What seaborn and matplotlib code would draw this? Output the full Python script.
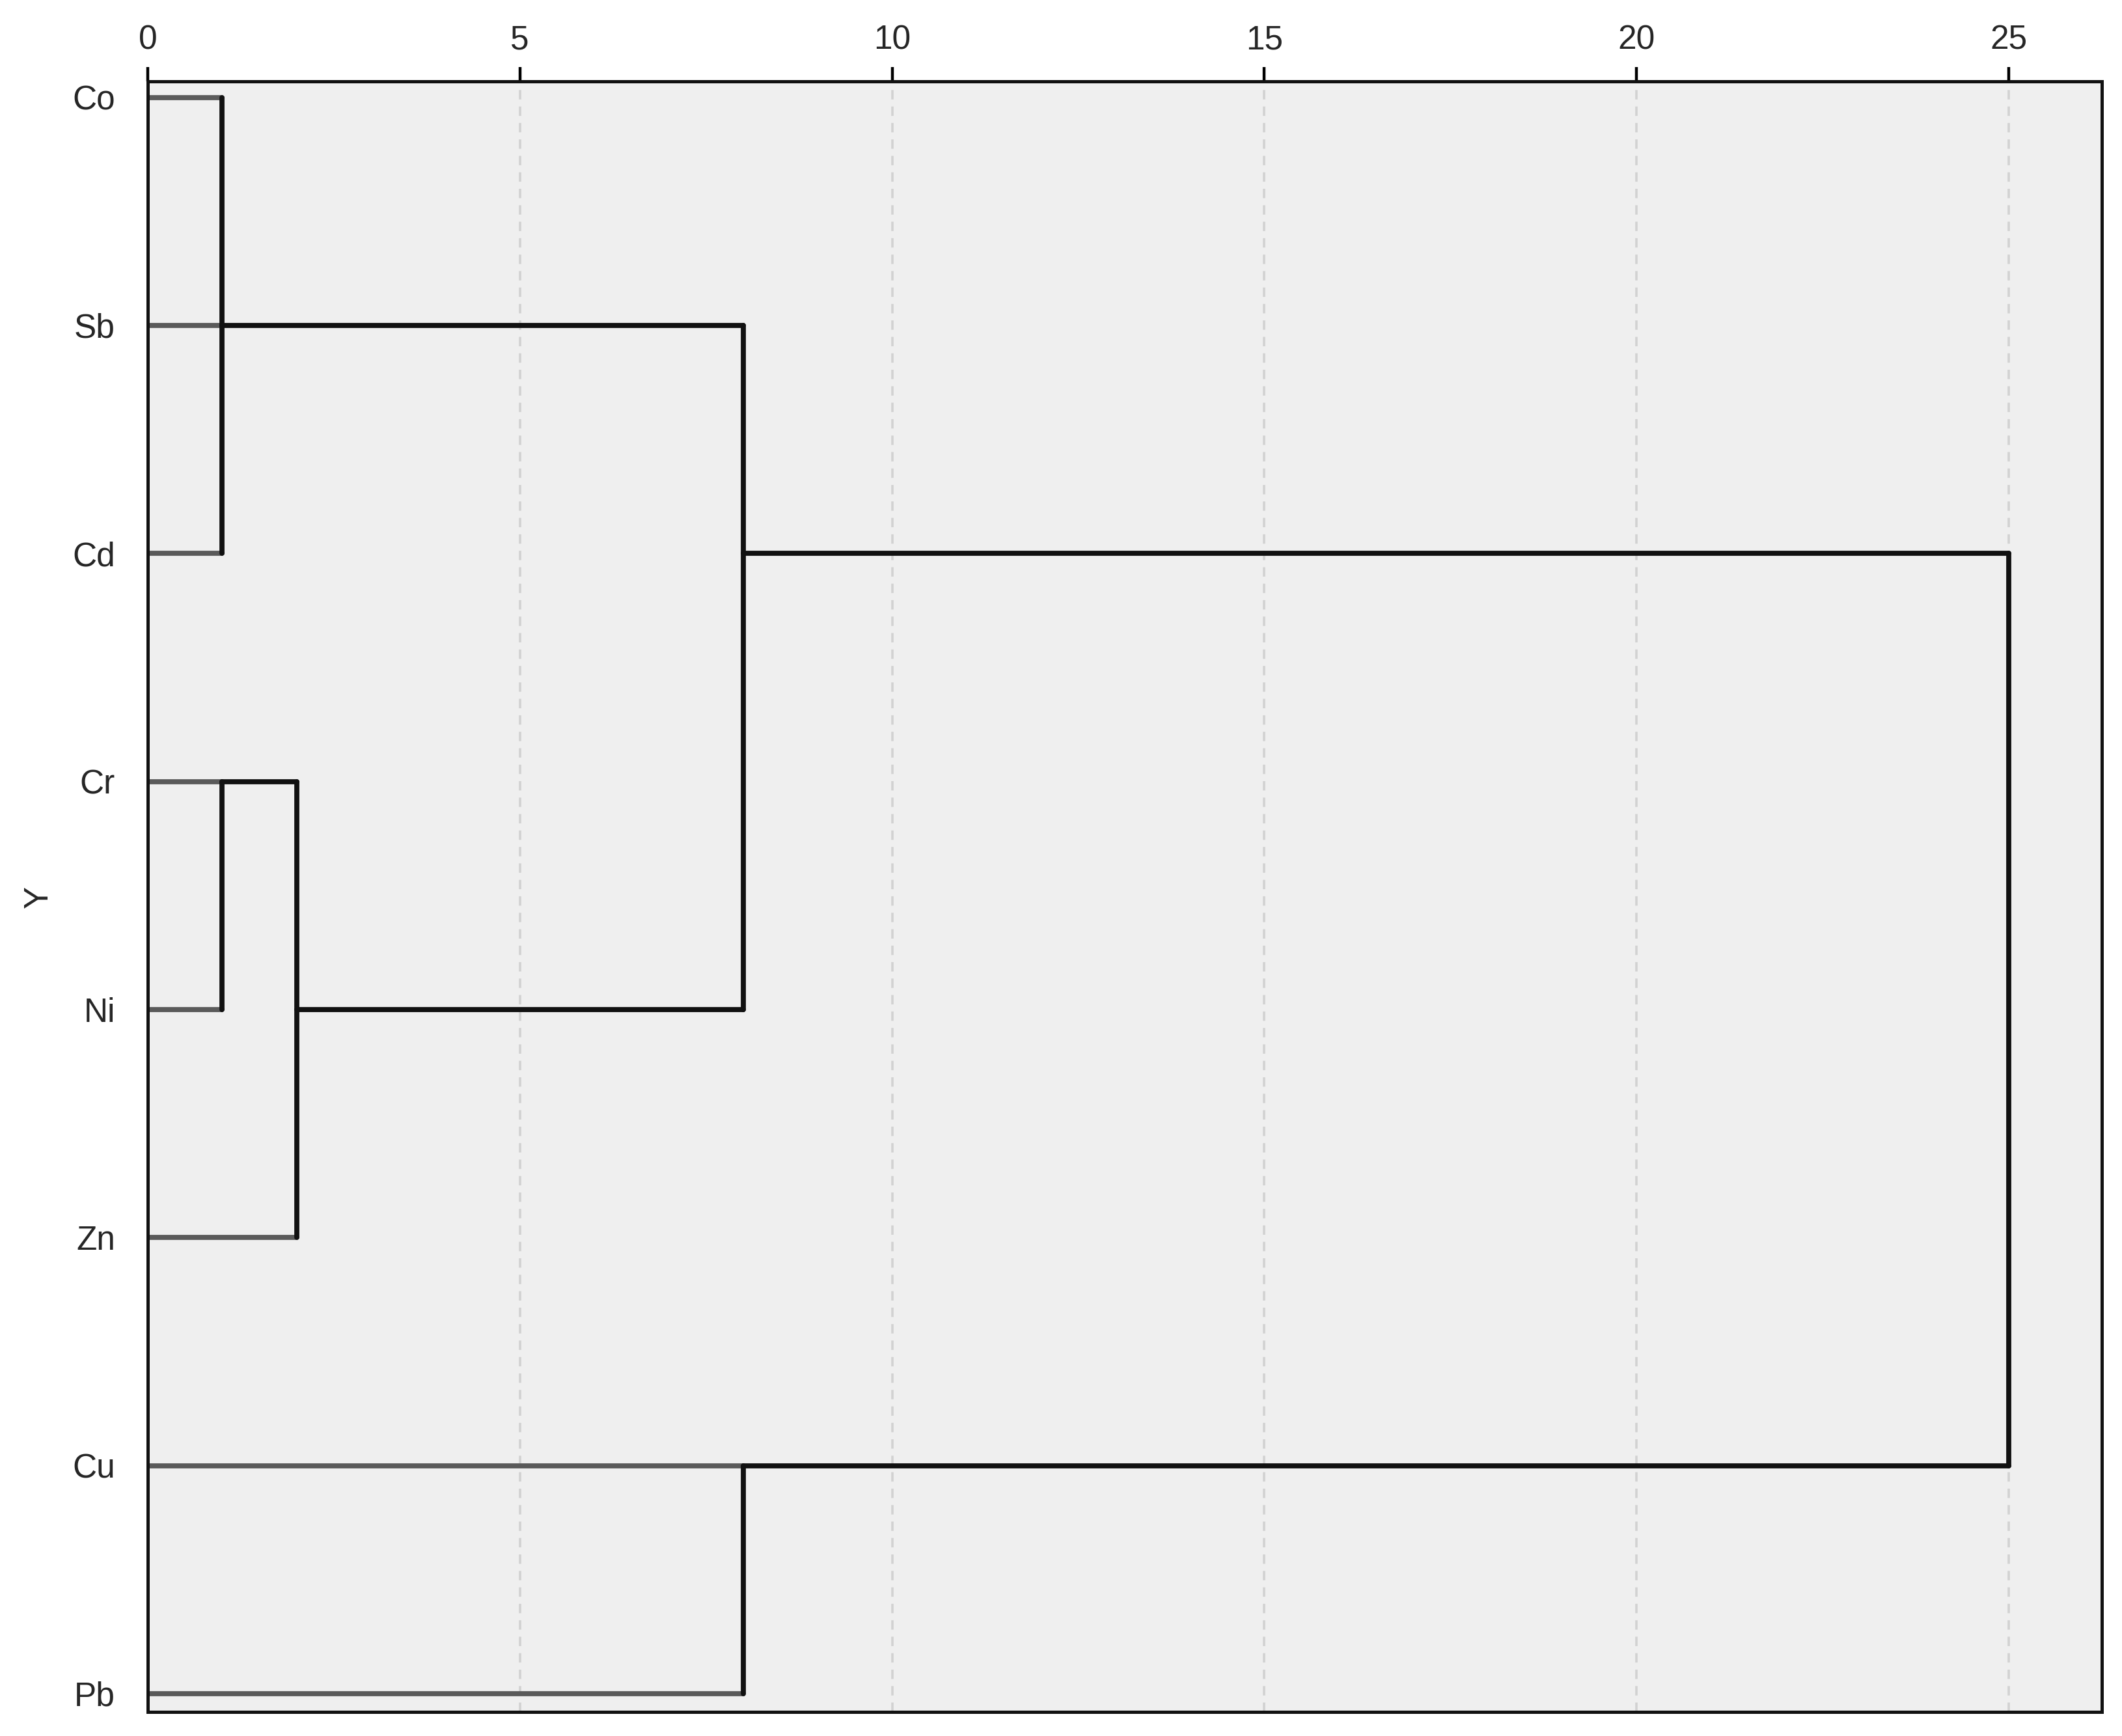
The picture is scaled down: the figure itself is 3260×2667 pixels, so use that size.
import matplotlib
matplotlib.use("Agg")
import matplotlib.pyplot as plt
import seaborn as sns
import pandas as pd

# leaf order top -> bottom
leaves = ['Co', 'Sb', 'Cd', 'Cr', 'Ni', 'Zn', 'Cu', 'Pb']
# merges (rescaled distance): C1..C7 in this order
merge_a = ['Co', 'Sb', 'Cr', 'C3', 'C2', 'Cu', 'C5']
merge_b = ['Cd', 'C1', 'Ni', 'Zn', 'C4', 'Pb', 'C6']
merge_h = [1, 1, 1, 2, 8, 8, 25]
x_ticks = [0, 5, 10, 15, 20, 25]

sns.set_style("white")
plt.rcParams['font.family'] = ['Liberation Sans', 'DejaVu Sans']

# build line segments of the dendrogram
row = {name: i for i, name in enumerate(leaves)}
height = {name: 0 for name in leaves}
rows = []
seg = 0
for k, (a, b, h) in enumerate(zip(merge_a, merge_b, merge_h)):
    for child in (a, b):
        kind = 'leaf' if child in leaves else 'node'
        rows.append((seg, kind, height[child], row[child]))
        rows.append((seg, kind, h, row[child]))
        seg += 1
    rows.append((seg, 'node', h, row[a]))
    rows.append((seg, 'node', h, row[b]))
    seg += 1
    name = 'C%d' % (k + 1)
    row[name] = (row[a] + row[b]) // 2
    height[name] = h
segs = pd.DataFrame(rows, columns=['seg', 'kind', 'x', 'y'])

fig = plt.figure(figsize=(16.3, 13.335), dpi=200)
ax = fig.add_axes([0.0696, 0.0139, 0.9209, 0.9392])
ax.set_facecolor('#efefef')

for xt in x_ticks:
    ax.axvline(xt, color='#d2d2d2', lw=1.3, ls=(0, (4, 3)), zorder=0)

sns.lineplot(data=segs, x='x', y='y', units='seg', estimator=None, sort=False,
             hue='kind', palette={'leaf': '#5a5a5a', 'node': '#111111'},
             linewidth=2.8, legend=False, ax=ax)

ax.set_xlim(0, 26.25)
ax.set_ylim(7.08, -0.07)
ax.set_xticks(x_ticks)
ax.set_yticks(range(len(leaves)))
ax.set_yticklabels(leaves)
ax.xaxis.tick_top()
ax.tick_params(axis='x', top=True, bottom=False, labeltop=True, labelbottom=False,
               length=8, width=1.6, color='black', labelsize=18.5, pad=6)
ax.tick_params(axis='y', left=False, length=0, labelsize=18.5, pad=18)
ax.set_xlabel('')
ax.set_ylabel('Y', fontsize=18.5, labelpad=10)
for s in ax.spines.values():
    s.set_visible(True)
    s.set_color('#111111')
    s.set_linewidth(1.8)

fig.savefig('out.png', dpi=200)
